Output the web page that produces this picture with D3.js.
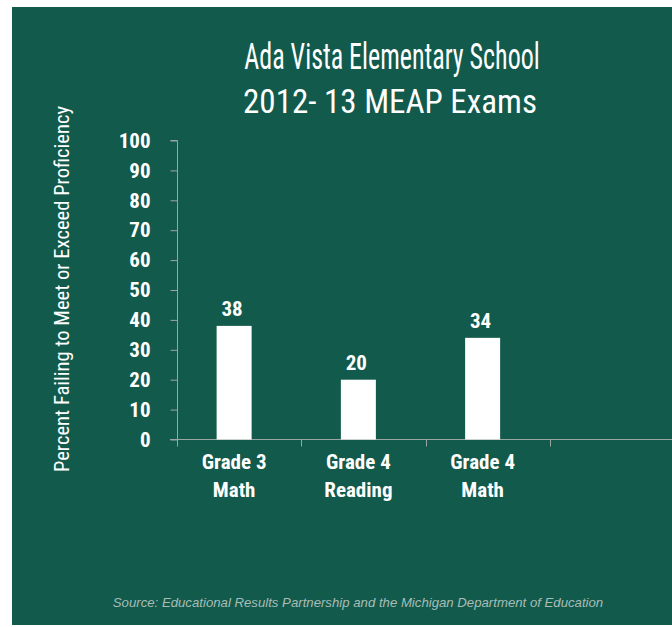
<!DOCTYPE html>
<html>
<head>
<meta charset="utf-8">
<script src="https://cdn.jsdelivr.net/npm/d3@7"></script>
<style>
  html, body { margin: 0; padding: 0; background: #ffffff; }
  svg { display: block; }
</style>
</head>
<body>
<svg id="chart" width="672" height="627"></svg>
<script>
const categories = ["Grade 3|Math", "Grade 4|Reading", "Grade 4|Math", ""];
const values = [38, 20, 34, null];
const yTicks = [0, 10, 20, 30, 40, 50, 60, 70, 80, 90, 100];
const titleLines = ["Ada Vista Elementary School", "2012- 13 MEAP Exams"];
const yTitle = "Percent Failing to Meet or Exceed Proficiency";
const sourceText = "Source: Educational Results Partnership and the Michigan Department of Education";

const BG = "#125a4c";
const AXIS = "#9aa6a2";
const NARROW = "'Liberation Sans Narrow', 'Arial Narrow', 'Roboto Condensed', 'Liberation Sans', sans-serif";

const svg = d3.select("#chart");
svg.append("rect").attr("x", 12).attr("y", 7).attr("width", 660).attr("height", 618).attr("fill", BG);

const y = d3.scaleLinear().domain([0, 100]).range([439.5, 140.5]);
const x = d3.scaleBand().domain(categories).range([172, 669]).padding(0);
const barW = 35;

// Title
const title = svg.append("g").attr("fill", "#ffffff").attr("font-family", NARROW)
  .attr("text-anchor", "middle");
title.append("text").attr("transform", "translate(392,69) scale(1,1.4)")
  .attr("font-size", 26).text(titleLines[0]);
title.append("text").attr("transform", "translate(390,113)")
  .attr("font-size", 33).text(titleLines[1]);

// Y axis
const yAxis = d3.axisLeft(y).tickValues(yTicks).tickSize(7).tickPadding(20);
const gy = svg.append("g").attr("transform", "translate(177.5,0)").call(yAxis);
gy.select(".domain").attr("stroke", AXIS).attr("d", "M-7,140.5H0V446");
gy.selectAll(".tick line").attr("stroke", AXIS);
gy.selectAll(".tick text").attr("fill", "#ffffff").attr("font-family", NARROW)
  .attr("font-weight", "bold").attr("font-size", 21);

// X axis line + boundary ticks
const gx = svg.append("g");
gx.append("line").attr("x1", 170).attr("x2", 672).attr("y1", y(0)).attr("y2", y(0))
  .attr("stroke", AXIS);
const bounds = categories.map(c => x(c) + 5);
gx.selectAll(".bt").data(bounds).join("line").attr("class", "bt")
  .attr("x1", d => Math.round(d) + 0.5).attr("x2", d => Math.round(d) + 0.5)
  .attr("y1", y(0)).attr("y2", y(0) + 7).attr("stroke", AXIS);

// Category labels
const labels = svg.append("g").attr("fill", "#ffffff").attr("font-family", NARROW)
  .attr("font-weight", "bold").attr("font-size", 21).attr("text-anchor", "middle");
categories.forEach(c => {
  if (!c) return;
  const parts = c.split("|");
  const t = labels.append("text").attr("x", x(c) + x.bandwidth() / 2).attr("y", 469);
  parts.forEach((p, i) => {
    t.append("tspan").attr("x", x(c) + x.bandwidth() / 2).attr("y", 469 + i * 28).text(p);
  });
});

// Bars
const data = categories.map((c, i) => ({ c, v: values[i] })).filter(d => d.v != null);
svg.append("g").selectAll("rect").data(data).join("rect")
  .attr("x", d => x(d.c) + x.bandwidth() / 2 - barW / 2)
  .attr("width", barW)
  .attr("y", d => y(d.v))
  .attr("height", d => y(0) - y(d.v))
  .attr("fill", "#ffffff");

svg.append("g").selectAll("text").data(data).join("text")
  .attr("x", d => x(d.c) + x.bandwidth() / 2 - 2)
  .attr("y", d => y(d.v) - 10)
  .attr("text-anchor", "middle")
  .attr("fill", "#ffffff").attr("font-family", NARROW)
  .attr("font-weight", "bold").attr("font-size", 21)
  .text(d => d.v);

// Y title
svg.append("text")
  .attr("transform", "translate(69,289) rotate(-90)")
  .attr("text-anchor", "middle")
  .attr("fill", "#ffffff").attr("font-family", NARROW).attr("font-size", 20.6)
  .text(yTitle);

// Source
svg.append("text").attr("x", 358).attr("y", 607).attr("text-anchor", "middle")
  .attr("fill", "#a9bdb6").attr("font-family", "'Liberation Sans', Arial, sans-serif")
  .attr("font-style", "italic").attr("font-size", 13.2)
  .text(sourceText);
</script>
</body>
</html>
